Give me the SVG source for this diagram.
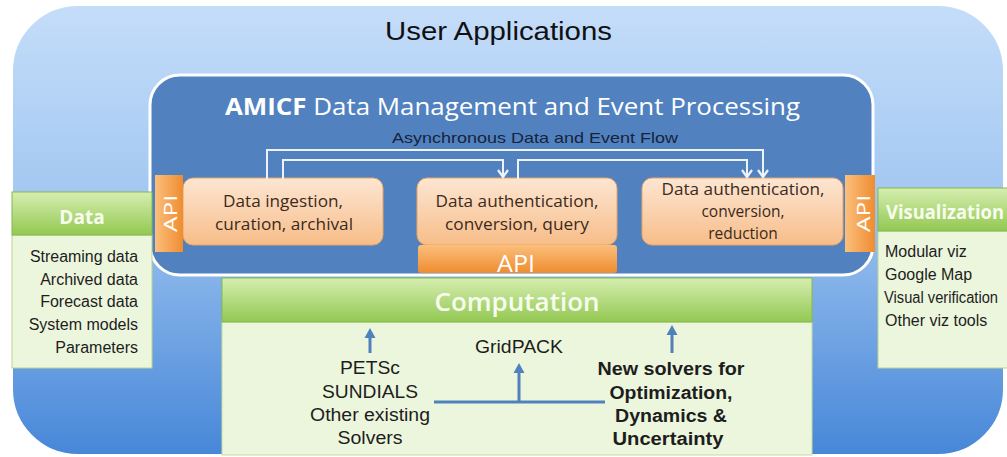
<svg xmlns="http://www.w3.org/2000/svg" width="1007" height="457" viewBox="0 0 1007 457">
  <defs>
    <linearGradient id="bgGrad" x1="0" y1="0" x2="0" y2="1">
      <stop offset="0" stop-color="#c4ddf9"/>
      <stop offset="0.4" stop-color="#a5c9f2"/>
      <stop offset="1" stop-color="#4787d8"/>
    </linearGradient>
    <linearGradient id="procGrad" x1="0" y1="0" x2="0" y2="1">
      <stop offset="0" stop-color="#fde6d3"/>
      <stop offset="1" stop-color="#f7bd88"/>
    </linearGradient>
    <linearGradient id="apiGrad" x1="0" y1="0" x2="0" y2="1">
      <stop offset="0" stop-color="#fbbf7c"/>
      <stop offset="1" stop-color="#ef8c30"/>
    </linearGradient>
    <linearGradient id="apiGradH" x1="0" y1="0" x2="1" y2="0">
      <stop offset="0" stop-color="#fbbf7c"/>
      <stop offset="1" stop-color="#ef8c30"/>
    </linearGradient>
    <linearGradient id="greenGrad" x1="0" y1="0" x2="0" y2="1">
      <stop offset="0" stop-color="#d6eeb0"/>
      <stop offset="1" stop-color="#93c852"/>
    </linearGradient>
    <marker id="chevron" markerUnits="userSpaceOnUse" orient="auto" markerWidth="20" markerHeight="20" refX="0" refY="0" viewBox="-10 -10 20 20" overflow="visible">
      <path d="M-7,-5 L0,0 L-7,5" fill="none" stroke="#eef3fa" stroke-width="2.2"/>
    </marker>
    <marker id="blueHead" markerUnits="userSpaceOnUse" orient="auto" markerWidth="20" markerHeight="20" refX="0" refY="0" viewBox="-10 -10 20 20" overflow="visible">
      <path d="M-3,-5.5 L7,0 L-3,5.5 Z" fill="#4f81bd"/>
    </marker>
    <style>
      .sans { font-family: "Liberation Sans", Arial, sans-serif; }
      .cal { font-family: "Open Sans", "Liberation Sans", sans-serif; }
      .proc { fill: url(#procGrad); stroke: #eaa466; stroke-width: 1; }
      .api { fill: url(#apiGrad); }
      .apiText { font-family: "Open Sans", "Liberation Sans", sans-serif; fill: #ffffff; text-anchor: middle; }
      .procText { font-family: "Open Sans", "Liberation Sans", sans-serif; font-size: 15.5px; fill: #3b2a1c; text-anchor: middle; }
      .hdr { fill: url(#greenGrad); stroke: #86b84a; stroke-width: 1; }
      .body { fill: #ecf6dc; stroke: #b9d68f; stroke-width: 1; }
      .hdrText { font-family: "Open Sans", "Liberation Sans", sans-serif; font-weight: 700; fill: #f8fdf0; }
      .list { font-family: "Liberation Sans", Arial, sans-serif; font-size: 16px; fill: #1d1d1d; }
      .solver { font-family: "Liberation Sans", Arial, sans-serif; font-size: 18px; fill: #1d1d1d; text-anchor: middle; }
      .flow { fill: none; stroke: #eef3fa; stroke-width: 2; marker-end: url(#chevron); }
      .feed { fill: none; stroke: #4f81bd; stroke-width: 3; }
    </style>
  </defs>

  <!-- outer user-application layer -->
  <g id="user-applications">
    <rect x="12" y="5" width="992" height="450" rx="66" ry="66" fill="url(#bgGrad)" stroke="#ffffff" stroke-width="2"/>
    <text class="sans" x="385" y="40" font-size="25" fill="#111111" textLength="227" lengthAdjust="spacingAndGlyphs">User Applications</text>
  </g>

  <!-- AMICF core -->
  <g id="amicf-core">
    <rect x="150" y="75" width="723" height="200" rx="30" ry="30" fill="#5182bf" stroke="#ffffff" stroke-width="3"/>
    <text class="cal" x="225" y="115" font-size="23" fill="#ffffff" textLength="575" lengthAdjust="spacingAndGlyphs"><tspan font-weight="700">AMICF</tspan> Data Management and Event Processing</text>
    <text class="sans" x="392" y="143" font-size="15" fill="#17233b" textLength="286" lengthAdjust="spacingAndGlyphs">Asynchronous Data and Event Flow</text>
  </g>

  <!-- processing stages -->
  <g id="stage-ingest">
    <rect class="proc" x="183" y="178" width="200" height="67" rx="10" ry="10"/>
    <text class="procText" x="283" y="207" textLength="120" lengthAdjust="spacingAndGlyphs">Data ingestion,</text>
    <text class="procText" x="284" y="230" textLength="138" lengthAdjust="spacingAndGlyphs">curation, archival</text>
  </g>
  <g id="stage-query">
    <rect class="proc" x="417" y="178" width="200" height="67" rx="10" ry="10"/>
    <text class="procText" x="517" y="207" textLength="163" lengthAdjust="spacingAndGlyphs">Data authentication,</text>
    <text class="procText" x="517" y="230" textLength="144" lengthAdjust="spacingAndGlyphs">conversion, query</text>
  </g>
  <g id="stage-reduction">
    <rect class="proc" x="642" y="178" width="201" height="67" rx="10" ry="10"/>
    <text class="procText" x="743" y="195" textLength="163" lengthAdjust="spacingAndGlyphs">Data authentication,</text>
    <text class="procText" x="743" y="217">conversion,</text>
    <text class="procText" x="743" y="239">reduction</text>
  </g>

  <!-- API tabs -->
  <g id="api-data">
    <rect x="155" y="175" width="28" height="77" fill="url(#apiGradH)"/>
    <text class="apiText" transform="translate(177,213.5) rotate(-90)" font-size="18" textLength="37" lengthAdjust="spacingAndGlyphs">API</text>
  </g>
  <g id="api-computation">
    <rect x="418" y="245" width="199" height="28" rx="3" ry="3" class="api"/>
    <text class="apiText" x="516" y="272" font-size="23" textLength="38" lengthAdjust="spacingAndGlyphs">API</text>
  </g>
  <g id="api-visualization">
    <rect x="845" y="175" width="30" height="77" fill="url(#apiGradH)"/>
    <text class="apiText" transform="translate(870,213.5) rotate(-90)" font-size="18" textLength="37" lengthAdjust="spacingAndGlyphs">API</text>
  </g>

  <!-- data sources -->
  <g id="data">
    <rect class="body" x="12" y="235" width="140" height="133"/>
    <rect class="hdr" x="12" y="192" width="140" height="43"/>
    <text class="hdrText" x="82" y="224" font-size="19" text-anchor="middle">Data</text>
    <g class="list" text-anchor="end">
      <text x="138" y="262" textLength="108" lengthAdjust="spacingAndGlyphs">Streaming data</text>
      <text x="138" y="285">Archived data</text>
      <text x="138" y="307">Forecast data</text>
      <text x="138" y="330">System models</text>
      <text x="138" y="353">Parameters</text>
    </g>
  </g>

  <!-- visualization tools -->
  <g id="visualization">
    <rect class="body" x="878" y="231" width="135" height="137"/>
    <rect class="hdr" x="878" y="188" width="135" height="43"/>
    <text class="hdrText" x="886" y="219" font-size="19" textLength="118" lengthAdjust="spacingAndGlyphs">Visualization</text>
    <g class="list">
      <text x="885" y="257">Modular viz</text>
      <text x="885" y="280">Google Map</text>
      <text x="884" y="303" textLength="114" lengthAdjust="spacingAndGlyphs">Visual verification</text>
      <text x="885" y="326">Other viz tools</text>
    </g>
  </g>

  <!-- computation layer -->
  <g id="computation">
    <rect x="222" y="322" width="590" height="133" fill="#ecf6dc" stroke="#c3dd9c" stroke-width="1"/>
    <rect class="hdr" x="222" y="278" width="590" height="44"/>
    <text class="cal" x="517" y="311" font-size="26" font-weight="600" fill="#f8fdf0" text-anchor="middle">Computation</text>
  </g>
  <g id="solvers-existing">
    <text class="solver" x="370" y="374" textLength="60" lengthAdjust="spacingAndGlyphs">PETSc</text>
    <text class="solver" x="370" y="398" textLength="96" lengthAdjust="spacingAndGlyphs">SUNDIALS</text>
    <text class="solver" x="370" y="421" textLength="120" lengthAdjust="spacingAndGlyphs">Other existing</text>
    <text class="solver" x="370" y="444" textLength="65" lengthAdjust="spacingAndGlyphs">Solvers</text>
  </g>
  <g id="gridpack">
    <text class="solver" x="519" y="353" textLength="88" lengthAdjust="spacingAndGlyphs">GridPACK</text>
  </g>
  <g id="solvers-new" font-weight="700">
    <text class="solver" x="671" y="375" textLength="147" lengthAdjust="spacingAndGlyphs">New solvers for</text>
    <text class="solver" x="671" y="399" textLength="123" lengthAdjust="spacingAndGlyphs">Optimization,</text>
    <text class="solver" x="671" y="422" textLength="112" lengthAdjust="spacingAndGlyphs">Dynamics &amp;</text>
    <text class="solver" x="668" y="445" textLength="111" lengthAdjust="spacingAndGlyphs">Uncertainty</text>
  </g>

  <!-- connectors -->
  <g id="connectors">
    <path class="flow" d="M267,179 V150 H763 V177"/>
    <path class="flow" d="M283,179 V160 H503 V177"/>
    <path class="flow" d="M518,179 V160 H747 V177"/>
    <path class="feed" d="M370,353 V335" marker-end="url(#blueHead)"/>
    <path class="feed" d="M434,402 H605"/>
    <path class="feed" d="M519,402 V370" marker-end="url(#blueHead)"/>
    <path class="feed" d="M672,353 V332" marker-end="url(#blueHead)"/>
  </g>
</svg>
